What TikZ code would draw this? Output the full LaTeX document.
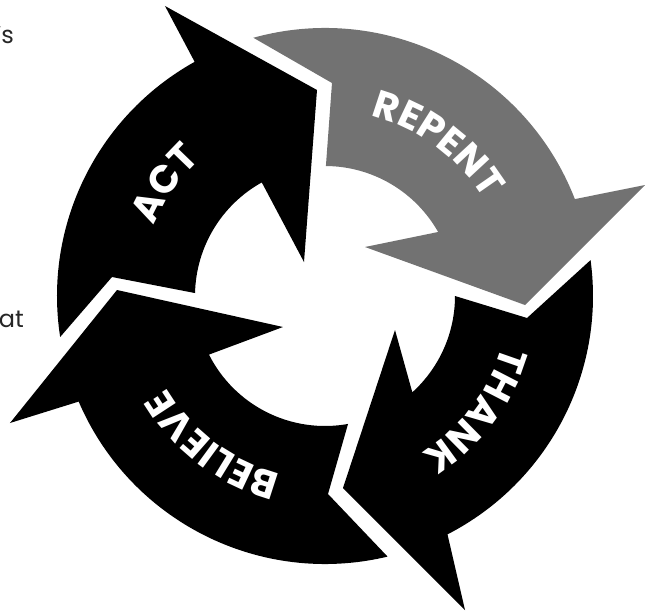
\documentclass[tikz,border=0pt]{standalone}
\usepackage{fontspec}
\setsansfont{Poppins}
\newfontfamily\cyclefont{Poppins}
\usepackage{xcolor}
\usepackage{tikz}
\usetikzlibrary{decorations.text}
\definecolor{repentgray}{RGB}{114,114,114}

\begin{document}
\begin{tikzpicture}[
  x=1pt, y=1pt,
  stage/.style={fill=black},
  active/.style={fill=repentgray},
  ringtext/.style={decorate, decoration={text along path, text align=center, text color=white,
    text={|\cyclefont\bfseries\fontsize{39}{39}\selectfont|#1}}},
  aside/.style={font=\sffamily\fontsize{24}{24}\selectfont, inner sep=0pt, text=black!85}
]
  \useasboundingbox (-325,-315) rectangle (320,296);
  \coordinate (hub) at (0,0);

  \fill[stage] (188.8:268) -- (-213,19) -- (178.7:130) arc[start angle=178.7, end angle=119.1, radius=130]
    -- (-21,34) -- (-8,206) -- (-160,290) -- (119.1:268) arc[start angle=119.1, end angle=188.8, radius=268] -- cycle;
  \fill[active] (105.5:268) -- (7,213) -- (89.6:130) arc[start angle=89.6, end angle=29.5, radius=130]
    -- (40,49) -- (200,-9) -- (320,111) -- (21.2:268) arc[start angle=21.2, end angle=105.5, radius=268] -- cycle;
  \fill[stage] (7.7:268) -- (202,-22) -- (0:130) arc[start angle=0, end angle=-47.8, radius=130]
    -- (70,-34) -- (18,-192) -- (140,-314) -- (-62.8:268) arc[start angle=-62.8, end angle=7.7, radius=268] -- cycle;
  \fill[stage] (-76.5:268) -- (3,-198) -- (-79.8:130) arc[start angle=-79.8, end angle=-153.2, radius=130]
    -- (-42,-31) -- (-208,6) -- (-315,-127) -- (-156.8:268) arc[start angle=-156.8, end angle=-76.5, radius=268] -- cycle;

  \path[ringtext=ACT] (195:185) arc[start angle=195, end angle=95, radius=185];
  \path[ringtext=REPENT] (103.5:186) arc[start angle=103.5, end angle=3.5, radius=186];
  \path[ringtext=THANK] (13:184) arc[start angle=13, end angle=-87, radius=184];
  \path[ringtext=BELIEVE] (283:183) arc[start angle=283, end angle=183, radius=183];

  \node[aside, anchor=base east] (frag1) at (-311,252) {’s};
  \node[aside, anchor=base east] (frag2) at (-301,-31) {at};
  \node[aside, anchor=base east] (frag3) at (-323,-246) {n};
\end{tikzpicture}
\end{document}
